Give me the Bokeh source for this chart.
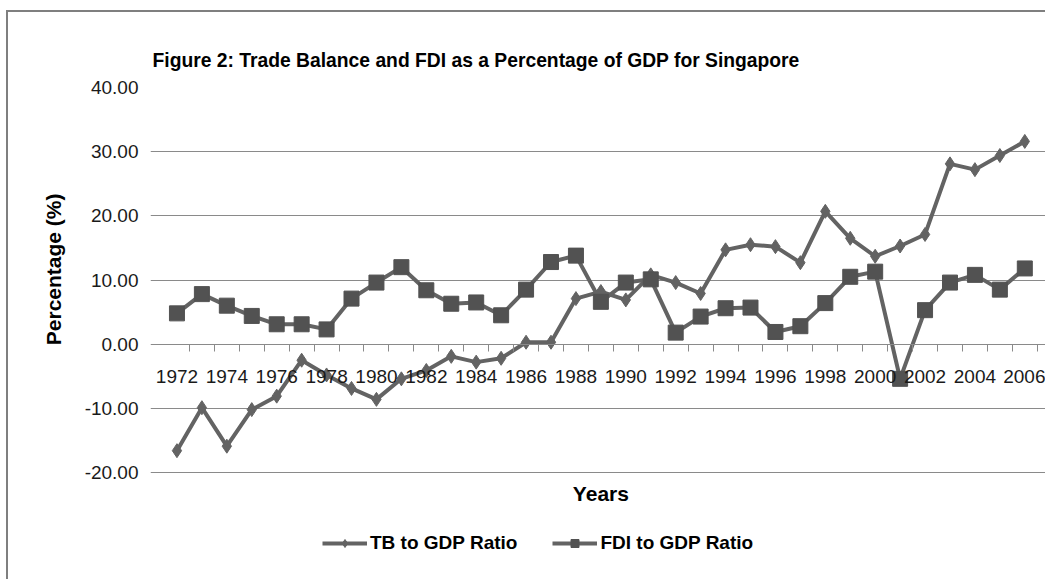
from bokeh.plotting import figure
from bokeh.models import (Range1d, LinearAxis, FixedTicker, PrintfTickFormatter,
                          Legend, LegendItem, Title, Label)
from bokeh.embed import file_html
from bokeh.resources import INLINE

# ---- data ----
years = list(range(1972, 2007))
tb_ratio = [-16.6, -9.9, -15.9, -10.2, -8.1, -2.5, -4.8, -6.9, -8.6, -5.4,
            -4.1, -1.9, -2.8, -2.2, 0.3, 0.3, 7.1, 8.2, 6.9, 10.8,
            9.6, 7.9, 14.7, 15.5, 15.2, 12.7, 20.7, 16.5, 13.7, 15.3,
            17.1, 28.1, 27.2, 29.4, 31.6]
fdi_ratio = [4.8, 7.8, 6.0, 4.4, 3.1, 3.1, 2.3, 7.1, 9.6, 12.0,
             8.4, 6.3, 6.5, 4.5, 8.5, 12.8, 13.8, 6.6, 9.6, 10.1,
             1.8, 4.3, 5.6, 5.7, 1.9, 2.8, 6.4, 10.5, 11.3, -5.4,
             5.3, 9.6, 10.8, 8.5, 11.8]
label_years = list(range(1972, 2007, 2))
y_ticks = [-20, -10, 0, 10, 20, 30, 40]
series_names = ["TB to GDP Ratio", "FDI to GDP Ratio"]
title_text = "Figure 2: Trade Balance and FDI as a Percentage of GDP for Singapore"
x_title = "Years"
y_title = "Percentage (%)"

FONT = "Liberation Sans"
GRID = "#8a8a8a"
LINE = "#636363"
MARK = "#525252"

PX_PER_YEAR = 24.94
PAD_L, PAD_R = 0.561, 0.33          # room for the end tick labels
TICK_EXT = 7 / PX_PER_YEAR          # gridlines reach past the category area
x0 = years[0] - 0.5
x1 = years[-1] + 0.5
frame_w = int(round((x1 - x0 + PAD_L + PAD_R) * PX_PER_YEAR))

PLOT_H = 385                         # pixel height of the -20..40 area
EXTRA_H = 93                         # room under it for axis title and legend
UNIT_PER_PX = (y_ticks[-1] - y_ticks[0]) / PLOT_H
y_lo = y_ticks[0] - EXTRA_H * UNIT_PER_PX

p = figure(frame_width=frame_w, frame_height=PLOT_H + EXTRA_H,
           x_range=Range1d(x0 - PAD_L, x1 + PAD_R),
           y_range=Range1d(y_lo, y_ticks[-1]),
           output_backend="svg", toolbar_location=None,
           x_axis_location=None, y_axis_location="left",
           min_border_left=142, min_border_top=75, min_border_right=0,
           min_border_bottom=14)
p.outline_line_color = None
p.background_fill_color = "white"
p.border_fill_color = "white"
p.styles = {"border-top": "2px solid #7f7f7f", "border-left": "2px solid #7f7f7f",
            "margin-left": "6px", "margin-top": "10px"}

p.title.text = title_text
p.title.text_font = FONT
p.title.text_font_size = "19.3px"
p.title.text_font_style = "bold"
p.title.text_color = "black"
p.title.align = "left"
p.title.offset = 2
p.title.standoff = 34

# y axis (tick marks are given by the gridline extension)
ya = p.yaxis[0]
ya.ticker = FixedTicker(ticks=y_ticks)
ya.formatter = PrintfTickFormatter(format="%.2f")
ya.axis_line_color = None
ya.major_tick_line_color = None
ya.major_tick_out = 0
ya.major_tick_in = 0
ya.minor_tick_line_color = None
ya.major_label_text_font = FONT
ya.major_label_text_font_size = "19px"
ya.major_label_text_color = "#1a1a1a"
ya.major_label_standoff = 12

# y axis title, as a title in the left panel (placed along the upper part)
yt = Title(text=y_title, align="right", offset=106, standoff=34,
           text_font=FONT, text_font_size="21px", text_font_style="bold",
           text_color="black")
p.add_layout(yt, "left")

p.ygrid.ticker = FixedTicker(ticks=y_ticks)
p.ygrid.grid_line_color = GRID
p.ygrid.grid_line_width = 1
p.ygrid.bounds = (x0 - TICK_EXT, x1)
for g in p.xgrid:
    g.visible = False

# series
l1 = p.line(years, tb_ratio, line_color=LINE, line_width=4)
m1 = p.scatter(years, tb_ratio, marker="diamond", size=14,
               fill_color=LINE, line_color=LINE)
l2 = p.line(years, fdi_ratio, line_color=LINE, line_width=4)
m2 = p.scatter(years, fdi_ratio, marker="square", size=15,
               fill_color=MARK, line_color=MARK)

# x axis crossing at y = 0
xa = LinearAxis(ticker=FixedTicker(ticks=label_years,
                                   minor_ticks=[y + 0.5 for y in years]),
                fixed_location=0,
                formatter=PrintfTickFormatter(format="%d"),
                bounds=(x0 - TICK_EXT, x1))
xa.axis_line_color = GRID
xa.axis_line_width = 1
xa.major_tick_line_color = None
xa.minor_tick_line_color = GRID
xa.minor_tick_out = 7
xa.minor_tick_in = 0
xa.major_label_text_font = FONT
xa.major_label_text_font_size = "19px"
xa.major_label_text_color = "#1a1a1a"
xa.major_label_standoff = 19
p.add_layout(xa, "below")

# x axis title under the -20 line
p.add_layout(Label(x=(x0 + x1) / 2, y=y_ticks[0] - 21 * UNIT_PER_PX,
                   text=x_title, text_align="center", text_baseline="middle",
                   text_font=FONT, text_font_size="21px",
                   text_font_style="bold", text_color="black"))

legend = Legend(items=[LegendItem(label=series_names[0], renderers=[l1, m1]),
                       LegendItem(label=series_names[1], renderers=[l2, m2])],
                orientation="horizontal", location=(172, 11))
legend.border_line_color = None
legend.background_fill_alpha = 0
legend.padding = 0
legend.margin = 0
legend.glyph_width = 45
legend.glyph_height = 20
legend.spacing = 35
legend.label_standoff = 3
legend.label_text_font = FONT
legend.label_text_font_size = "19px"
legend.label_text_font_style = "bold"
legend.label_text_color = "black"
p.add_layout(legend, "center")

open("out.html", "w").write(file_html(p, INLINE))
